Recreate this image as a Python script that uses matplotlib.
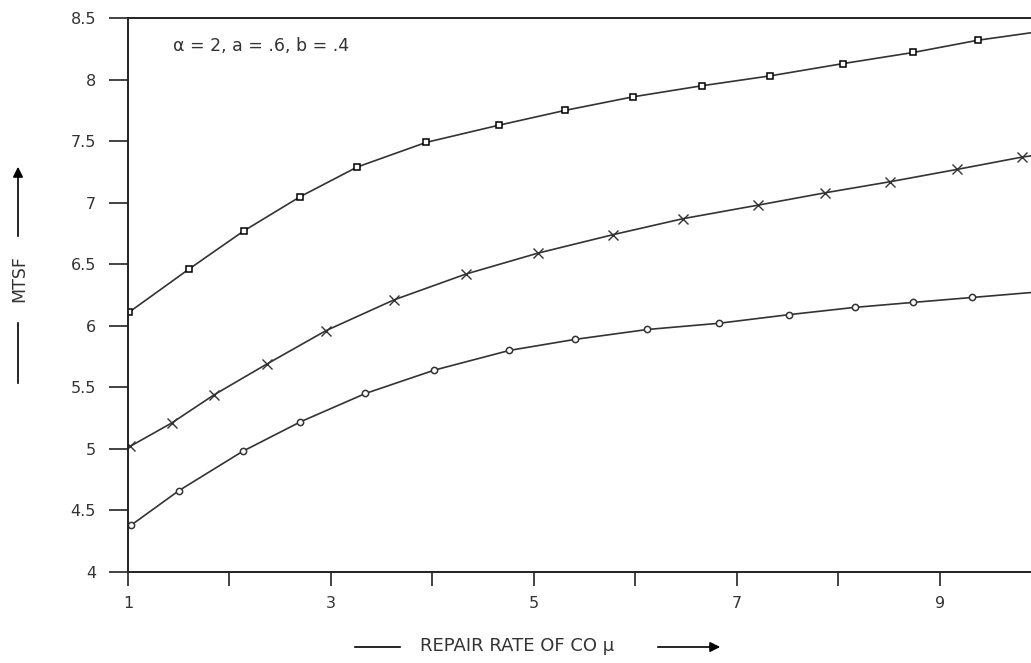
import matplotlib
matplotlib.use("Agg")
import matplotlib.pyplot as plt
from matplotlib.lines import Line2D

# Data (repair rate mu vs MTSF)
x_square = [1.01, 1.60, 2.14, 2.70, 3.26, 3.94, 4.66, 5.31, 5.98, 6.66, 7.33, 8.05, 8.74, 9.38, 9.90]
y_square = [6.11, 6.46, 6.77, 7.05, 7.29, 7.49, 7.63, 7.75, 7.86, 7.95, 8.03, 8.13, 8.22, 8.32, 8.38]

x_cross = [1.02, 1.43, 1.85, 2.37, 2.95, 3.62, 4.33, 5.04, 5.78, 6.47, 7.21, 7.87, 8.51, 9.17, 9.81, 9.90]
y_cross = [5.02, 5.21, 5.44, 5.69, 5.96, 6.21, 6.42, 6.59, 6.74, 6.87, 6.98, 7.08, 7.17, 7.27, 7.37, 7.38]

x_circle = [1.03, 1.50, 2.13, 2.70, 3.34, 4.02, 4.76, 5.41, 6.12, 6.82, 7.51, 8.17, 8.74, 9.32, 9.90]
y_circle = [4.38, 4.66, 4.98, 5.22, 5.45, 5.64, 5.80, 5.89, 5.97, 6.02, 6.09, 6.15, 6.19, 6.23, 6.27]

x_ticks = [1, 2, 3, 4, 5, 6, 7, 8, 9]
x_ticklabels = ["1", "", "3", "", "5", "", "7", "", "9"]
y_ticks = [4, 4.5, 5, 5.5, 6, 6.5, 7, 7.5, 8, 8.5]
y_ticklabels = ["4", "4.5", "5", "5.5", "6", "6.5", "7", "7.5", "8", "8.5"]

W, H = 1031, 663
fig = plt.figure(figsize=(W / 100, H / 100), dpi=100)
ax = fig.add_axes([128 / W, 1 - 572 / H, 1 - 128 / W, (572 - 18) / H])

line_col = "#333333"
txt_col = "#333333"
ax.plot(x_square, y_square, color=line_col, lw=1.2, marker="s", markersize=5,
        markerfacecolor="white", markeredgecolor="black", markeredgewidth=1.1,
        markevery=list(range(len(x_square) - 1)))
ax.plot(x_cross, y_cross, color=line_col, lw=1.2, marker="x", markersize=7,
        markeredgecolor="#333333", markeredgewidth=1.0,
        markevery=list(range(len(x_cross) - 1)))
ax.plot(x_circle, y_circle, color=line_col, lw=1.2, marker="o", markersize=4.5,
        markerfacecolor="white", markeredgecolor="#333333", markeredgewidth=1.1,
        markevery=list(range(len(x_circle) - 1)))

ax.set_xlim(1, 9.9)
ax.set_ylim(4, 8.5)
ax.set_xticks(x_ticks)
ax.set_xticklabels(x_ticklabels)
ax.set_yticks(y_ticks)
ax.set_yticklabels(y_ticklabels)
ax.tick_params(axis="x", direction="out", length=10, width=1.2, pad=7,
               labelsize=11.5, colors="#222222", labelcolor=txt_col)
ax.tick_params(axis="y", direction="out", length=14, width=1.2, pad=9,
               labelsize=11.5, colors="#222222", labelcolor=txt_col)
for s in ["left", "bottom", "top"]:
    ax.spines[s].set_linewidth(1.4)
    ax.spines[s].set_color("#222222")
ax.spines["right"].set_visible(False)

ax.text(173, H - 46, "α = 2, a = .6, b = .4", transform=None, fontsize=12.5,
        color=txt_col, va="center", ha="left")

# X label with line and arrow
fig.add_artist(Line2D([355 / W, 400 / W], [1 - 647 / H, 1 - 647 / H],
                      color="black", lw=1.2))
fig.text(420 / W, 1 - 646 / H, "REPAIR RATE OF CO μ", fontsize=13,
         color=txt_col, va="center", ha="left")
ax.annotate("", xy=(723, H - 647), xycoords="figure pixels",
            xytext=(655, H - 647), textcoords="figure pixels",
            arrowprops=dict(arrowstyle="-|>", color="black", lw=1.2,
                            mutation_scale=15))

# Y label with line and arrow
fig.add_artist(Line2D([18 / W, 18 / W], [1 - 383 / H, 1 - 323 / H],
                      color="black", lw=1.2))
fig.text(19 / W, 1 - 279 / H, "MTSF", fontsize=12.5, color=txt_col,
         rotation=90, va="center", ha="center")
ax.annotate("", xy=(18, H - 164), xycoords="figure pixels",
            xytext=(18, H - 239), textcoords="figure pixels",
            arrowprops=dict(arrowstyle="-|>", color="black", lw=1.2,
                            mutation_scale=15))

fig.savefig("out.png", dpi=100)
